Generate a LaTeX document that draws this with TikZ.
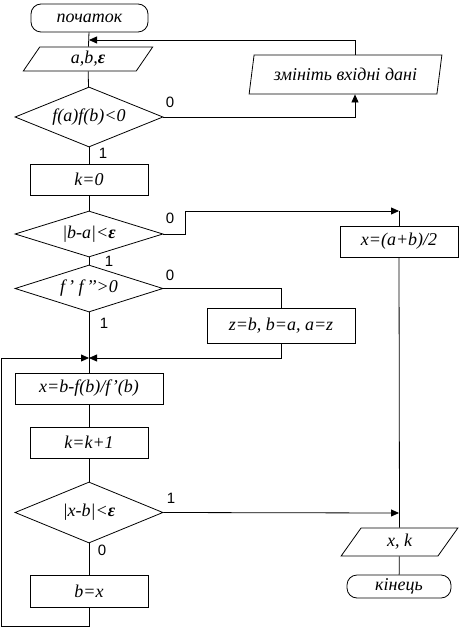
\documentclass[tikz,border=0pt]{standalone}
\usepackage{fontspec}
\setmainfont{Liberation Serif}
\newfontfamily\lblfont{Liberation Sans}
\usetikzlibrary{shapes.geometric,arrows.meta}
\newcommand{\prm}{\char"27\relax}
\begin{document}
\begin{tikzpicture}[x=1pt,y=-1pt,line width=0.8pt,
  txt/.style={font=\fontsize{18}{20}\selectfont\itshape},
  box/.style={txt,draw,rectangle,inner sep=0},
  dec/.style={txt,draw,diamond,aspect=3.2,inner sep=0,minimum width=148},
  io/.style={txt,draw,trapezium,trapezium stretches=true,inner sep=0},
  term/.style={txt,draw,rectangle,rounded corners=10pt,inner sep=0},
  lbl/.style={font=\fontsize{15}{17}\selectfont\lblfont,inner sep=0},
  arr/.style={-{Triangle[length=8pt,width=7pt]}}]
\fill[white] (0,0) rectangle (460,628);
\useasboundingbox (0,0) rectangle (460,628);
% main column
\node[term,minimum width=117,minimum height=28] (start) at (89.5,18) {початок};
\node[io,minimum width=130,minimum height=24,trapezium left angle=69,trapezium right angle=111] (ab) at (88,59) {a,b,\textbf{ε}};
\node[dec,minimum height=60] (d1) at (89,117) {f(a)f(b)<0};
\node[box,minimum width=118,minimum height=31] (k0) at (89,179.5) {k=0};
\node[dec,minimum height=46] (d2) at (89,234) {|b-a|<\textbf{ε}};
\node[dec,minimum height=47] (d3) at (89,288.5) {f\,\prm\ f\,\prm\prm>0};
\node[box,minimum width=148,minimum height=31] (newt) at (89,388.5) {x=b-f(b)/f\prm(b)};
\node[box,minimum width=118,minimum height=31] (kinc) at (89,442.5) {k=k+1};
\node[dec,minimum height=61] (d4) at (89,512.5) {|x-b|<\textbf{ε}};
\node[box,minimum width=118,minimum height=32] (bx) at (89,591) {b=x};
% right side
\node[io,minimum width=193,minimum height=39,trapezium left angle=73,trapezium right angle=107] (chg) at (345.5,74.5) {змініть вхідні дані};
\node[box,minimum width=118,minimum height=31] (mid) at (399,241.5) {x=(a+b)/2};
\node[box,minimum width=148,minimum height=35] (swap) at (281,325.5) {z=b, b=a, a=z};
\node[io,minimum width=117,minimum height=28,trapezium left angle=67,trapezium right angle=113] (out) at (399.5,542) {x, k};
\node[term,minimum width=104,minimum height=23] (fin) at (399,586.5) {кінець};
% junction coordinates
\coordinate (j1) at (89,40);
\coordinate (j2) at (399,211);
\coordinate (j3) at (89,358);
\coordinate (j4) at (399,513);
\coordinate (cx) at (355,0);
\coordinate (cl) at (1,626);
% connectors
\draw (start) -- (ab);
\draw (ab) -- (d1);
\draw[arr] (d1.east) -| (chg.south -| cx);
\draw[arr] (chg.north -| cx) |- (j1);
\draw (d1) -- (k0);
\draw (k0) -- (d2);
\draw[arr] (d2.east) -- ++(22,0) |- (j2);
\draw (j2) -- (mid.north);
\draw (d2) -- (d3);
\draw (d3.east) -| (swap.north);
\draw[arr] (swap.south) |- (j3);
\draw (d3) -- (newt);
\draw (newt) -- (kinc);
\draw (kinc) -- (d4);
\draw[arr] (d4.east) -- (j4);
\draw (mid.south) -- (out.north);
\draw (d4) -- (bx);
\draw[arr] (bx.south) |- (cl) |- (j3);
\draw (out) -- (fin);
% branch labels
\node[lbl] (l1) at (170,102) {0};
\node[lbl] (l2) at (103,153) {1};
\node[lbl] (l3) at (170,218) {0};
\node[lbl] (l4) at (109,261) {1};
\node[lbl] (l5) at (170,275) {0};
\node[lbl] (l6) at (104,323) {1};
\node[lbl] (l7) at (171,498) {1};
\node[lbl] (l8) at (102,550) {0};
\end{tikzpicture}
\end{document}
